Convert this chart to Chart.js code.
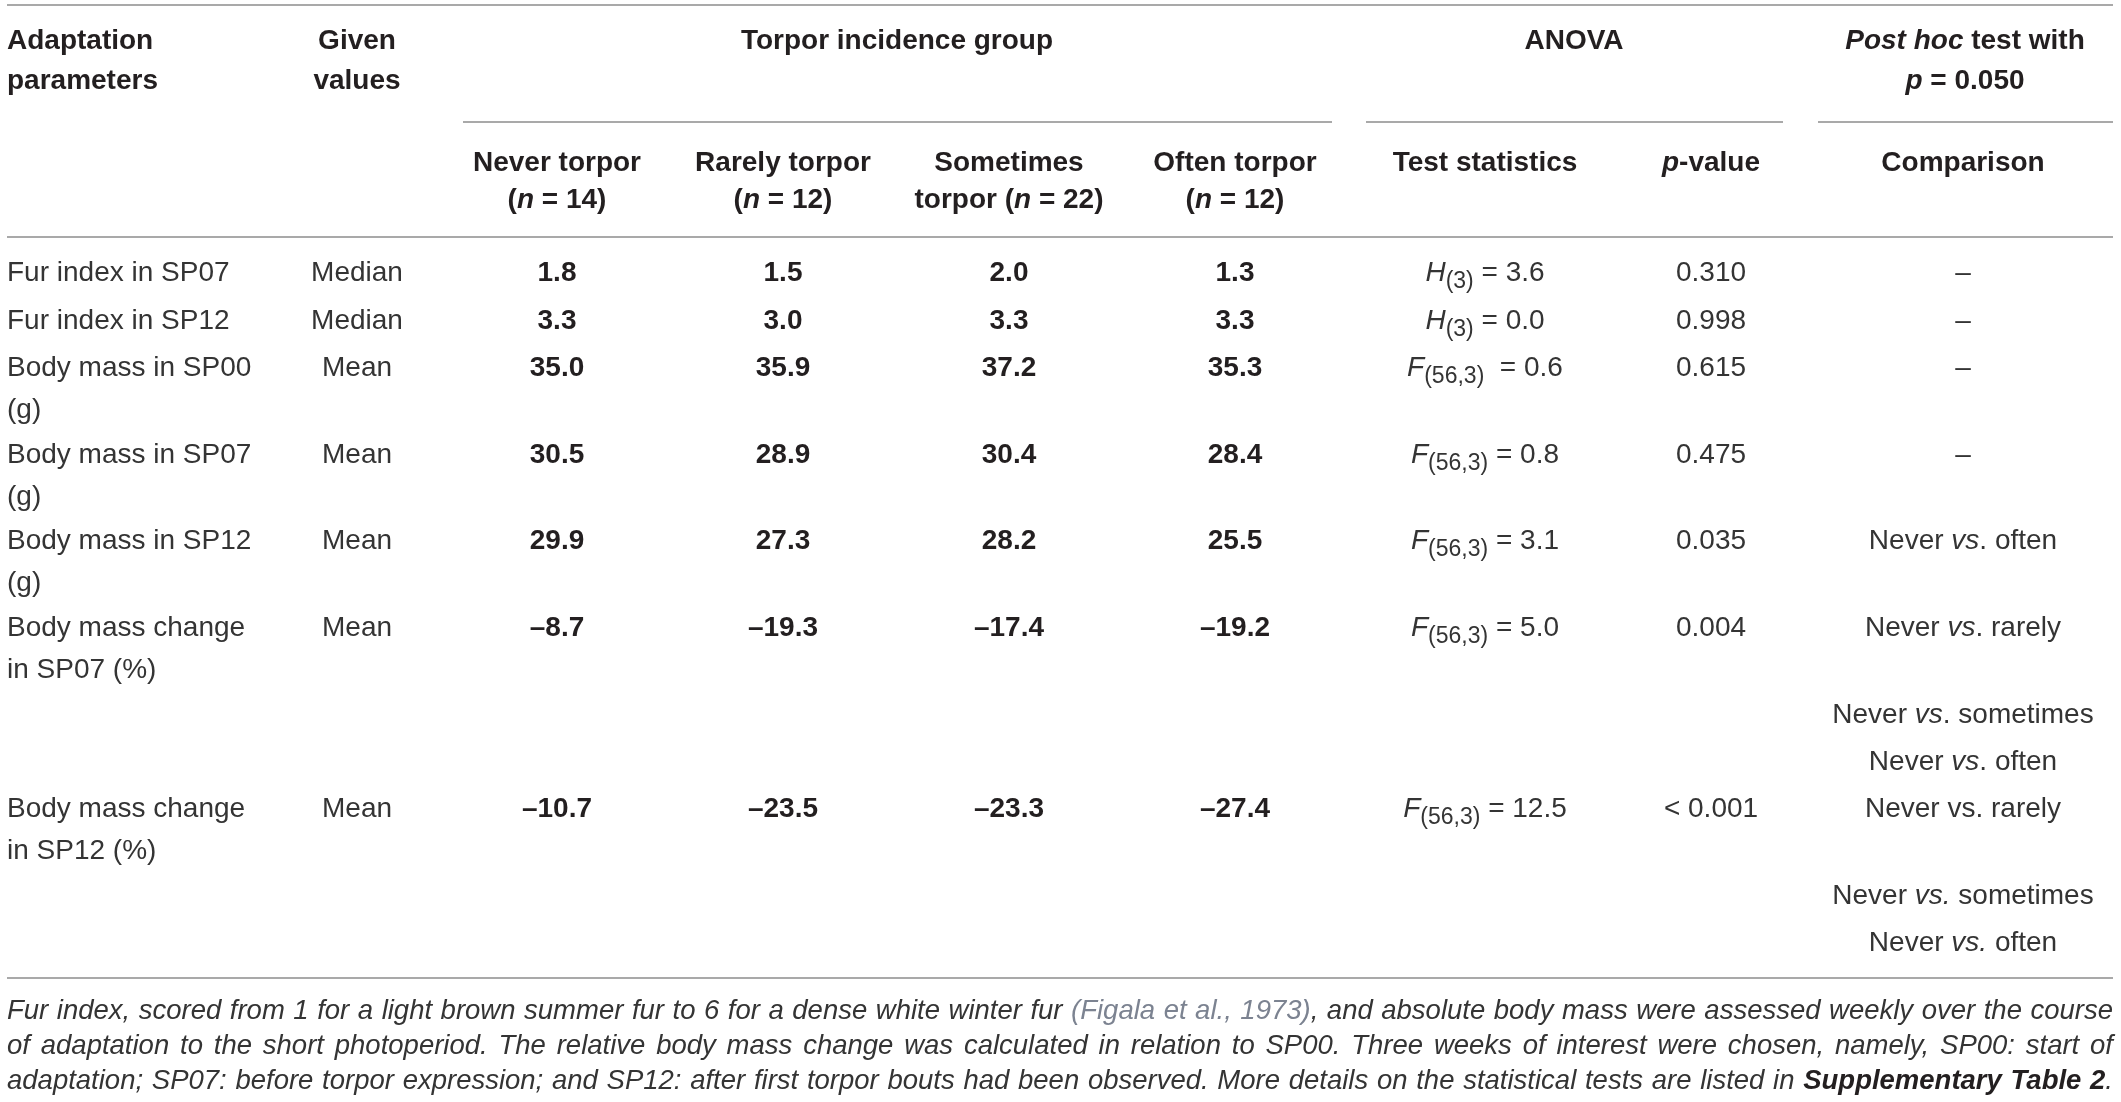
<!DOCTYPE html>
<html>
<head>
<meta charset="utf-8">
<script src="https://cdn.jsdelivr.net/npm/chart.js@4.4.1/dist/chart.umd.min.js"></script>
<style>
  html, body { margin: 0; padding: 0; background: #fff; }
  canvas { display: block; }
</style>
</head>
<body>
<canvas id="tabela" width="2121" height="1102"></canvas>
<script>
/* Tabela: parâmetros de adaptação por grupo de incidência de torpor */

const LARGURA = 2121;
const ALTURA  = 1102;
const FAMILIA = '"Liberation Sans", Arial, Helvetica, sans-serif';
const COR_TEXTO = "#343434";
const COR_NEGRITO = "#231f20";
const COR_CITA  = "#7c8391";
const COR_REGRA = "#a9a9a9";

// ---- dados ----
const parametros = [
  ["Fur index in SP07"],
  ["Fur index in SP12"],
  ["Body mass in SP00", "(g)"],
  ["Body mass in SP07", "(g)"],
  ["Body mass in SP12", "(g)"],
  ["Body mass change", "in SP07 (%)"],
  ["Body mass change", "in SP12 (%)"]
];
const valoresDados = ["Median", "Median", "Mean", "Mean", "Mean", "Mean", "Mean"];

const grupos = [
  ["Never torpor", "(_n_ = 14)"],
  ["Rarely torpor", "(_n_ = 12)"],
  ["Sometimes", "torpor (_n_ = 22)"],
  ["Often torpor", "(_n_ = 12)"]
];
const neverTorpor     = [1.8, 3.3, 35.0, 30.5, 29.9, -8.7, -10.7];
const rarelyTorpor    = [1.5, 3.0, 35.9, 28.9, 27.3, -19.3, -23.5];
const sometimesTorpor = [2.0, 3.3, 37.2, 30.4, 28.2, -17.4, -23.3];
const oftenTorpor     = [1.3, 3.3, 35.3, 28.4, 25.5, -19.2, -27.4];

const estatSimbolo = ["H", "H", "F", "F", "F", "F", "F"];
const estatGL      = ["(3)", "(3)", "(56,3)", "(56,3)", "(56,3)", "(56,3)", "(56,3)"];
const estatValor   = [3.6, 0.0, 0.6, 0.8, 3.1, 5.0, 12.5];
const pValores     = ["0.310", "0.998", "0.615", "0.475", "0.035", "0.004", "< 0.001"];

const comparacoes = [
  ["–"],
  ["–"],
  ["–"],
  ["–"],
  ["Never _vs_. often"],
  ["Never _vs_. rarely", "Never _vs_. sometimes", "Never _vs_. often"],
  ["Never vs. rarely", "Never _vs._ sometimes", "Never _vs._ often"]
];

const cabecalho1 = {
  parametros: ["Adaptation", "parameters"],
  dados: ["Given", "values"],
  grupo: ["Torpor incidence group"],
  anova: ["ANOVA"],
  posthoc: ["_Post hoc_ test with", "_p_ = 0.050"]
};
const cabecalho2 = {
  estat: ["Test statistics"],
  p: ["_p_-value"],
  comp: ["Comparison"]
};

const legenda = [
  "Fur index, scored from 1 for a light brown summer fur to 6 for a dense white winter fur {(Figala et al., 1973)}, and absolute body mass were assessed weekly over the course",
  "of adaptation to the short photoperiod. The relative body mass change was calculated in relation to SP00. Three weeks of interest were chosen, namely, SP00: start of",
  "adaptation; SP07: before torpor expression; and SP12: after first torpor bouts had been observed. More details on the statistical tests are listed in *Supplementary Table 2*."
];

// ---- layout ----
const ESQ = 7, DIR = 2113;
const COL_DADOS = 357;
const COL_GRUPOS = [557, 783, 1009, 1235];
const COL_ESTAT = 1485, COL_P = 1711, COL_COMP = 1963;
const CENTRO_GRUPO = 897, CENTRO_ANOVA = 1574, CENTRO_POSTHOC = 1965;
const Y_CAB1 = [41, 81], Y_CAB2 = [163, 200];
const Y_LINHAS = [273, 321, 368, 455, 541, 628, 809];
const PASSO_LINHA = 42, PASSO_SUB = 47, PRIMEIRO_SUB = 87;
const Y_LEGENDA = [1011, 1046, 1081];
const REGRAS = [
  [5, ESQ, DIR], [122, 463, 1332], [122, 1366, 1783], [122, 1818, DIR],
  [237, ESQ, DIR], [978, ESQ, DIR]
];
const TAM = 28, TAM_SUB = 23;

// ---- texto rico ----
function parseRuns(markup, base) {
  const runs = [];
  let it = !!base.italic, bd = !!base.bold, cita = false, buf = "";
  const push = () => {
    if (buf) runs.push({ t: buf, italic: it, bold: bd, size: base.size || TAM,
                         color: cita ? COR_CITA : (bd ? COR_NEGRITO : COR_TEXTO), dy: base.dy || 0 });
    buf = "";
  };
  for (const ch of markup) {
    if (ch === "_") { push(); it = !it; }
    else if (ch === "*") { push(); bd = !bd; }
    else if (ch === "{") { push(); cita = true; }
    else if (ch === "}") { push(); cita = false; }
    else buf += ch;
  }
  push();
  return runs;
}

function fonte(r) {
  return `${r.italic ? "italic " : ""}${r.bold ? "bold " : ""}${r.size}px ${FAMILIA}`;
}

function larguraRuns(ctx, runs) {
  let w = 0;
  for (const r of runs) { ctx.font = fonte(r); w += ctx.measureText(r.t).width; }
  return w;
}

function desenharRuns(ctx, runs, x, y, align) {
  const w = larguraRuns(ctx, runs);
  let cx = align === "center" ? x - w / 2 : x;
  for (const r of runs) {
    ctx.font = fonte(r);
    ctx.fillStyle = r.color;
    ctx.fillText(r.t, cx, y + r.dy);
    cx += ctx.measureText(r.t).width;
  }
}

function palavras(runs) {
  const ws = [[]];
  for (const r of runs) {
    r.t.split(" ").forEach((p, i) => {
      if (i > 0) ws.push([]);
      if (p) ws[ws.length - 1].push({ ...r, t: p });
    });
  }
  return ws.filter(w => w.length);
}

const fmt = v => v.toFixed(1).replace("-", "–");

// ---- plugin que desenha a tabela sobre as escalas ----
const tabelaPlugin = {
  id: "tabela",
  afterDraw(chart) {
    const { ctx, scales: { x, y } } = chart;
    const px = v => x.getPixelForValue(v);
    const py = v => y.getPixelForValue(v);
    ctx.save();
    ctx.textBaseline = "middle";

    // regras horizontais
    ctx.strokeStyle = COR_REGRA;
    ctx.lineWidth = 2;
    for (const [ry, x0, x1] of REGRAS) {
      ctx.beginPath();
      ctx.moveTo(px(x0), py(ry));
      ctx.lineTo(px(x1), py(ry));
      ctx.stroke();
    }

    const cab = (linhas, cx, ys, align) => linhas.forEach((t, i) =>
      desenharRuns(ctx, parseRuns(t, { bold: true }), px(cx), py(ys[i]), align));

    // cabeçalho 1
    cab(cabecalho1.parametros, ESQ, Y_CAB1, "left");
    cab(cabecalho1.dados, COL_DADOS, Y_CAB1, "center");
    cab(cabecalho1.grupo, CENTRO_GRUPO, Y_CAB1, "center");
    cab(cabecalho1.anova, CENTRO_ANOVA, Y_CAB1, "center");
    cab(cabecalho1.posthoc, CENTRO_POSTHOC, Y_CAB1, "center");

    // cabeçalho 2
    grupos.forEach((g, i) => cab(g, COL_GRUPOS[i], Y_CAB2, "center"));
    cab(cabecalho2.estat, COL_ESTAT, Y_CAB2, "center");
    cab(cabecalho2.p, COL_P, Y_CAB2, "center");
    cab(cabecalho2.comp, COL_COMP, Y_CAB2, "center");

    // corpo
    const series = [neverTorpor, rarelyTorpor, sometimesTorpor, oftenTorpor];
    Y_LINHAS.forEach((ly, i) => {
      parametros[i].forEach((t, k) =>
        desenharRuns(ctx, parseRuns(t, {}), px(ESQ), py(ly + k * PASSO_LINHA), "left"));
      desenharRuns(ctx, parseRuns(valoresDados[i], {}), px(COL_DADOS), py(ly), "center");
      series.forEach((s, j) =>
        desenharRuns(ctx, parseRuns(fmt(s[i]), { bold: true }), px(COL_GRUPOS[j]), py(ly), "center"));

      const estat = [
        ...parseRuns(estatSimbolo[i], { italic: true }),
        ...parseRuns(estatGL[i], { size: TAM_SUB, dy: 9 }),
        ...parseRuns((i === 2 ? "  = " : " = ") + estatValor[i].toFixed(1), {})
      ];
      desenharRuns(ctx, estat, px(COL_ESTAT), py(ly), "center");
      desenharRuns(ctx, parseRuns(pValores[i], {}), px(COL_P), py(ly), "center");

      comparacoes[i].forEach((t, k) => {
        const cy = k === 0 ? ly : ly + PRIMEIRO_SUB + (k - 1) * PASSO_SUB;
        desenharRuns(ctx, parseRuns(t, {}), px(COL_COMP), py(cy), "center");
      });
    });

    // legenda justificada
    const largura = px(DIR) - px(ESQ);
    const medir = tam => legenda.map(l => {
      const ws = palavras(parseRuns(l, { italic: true, size: tam }));
      return ws.reduce((a, w) => a + larguraRuns(ctx, w), 0) + (ws.length - 1) * tam * 0.278;
    });
    const nat = Math.max(...medir(TAM));
    const tamLeg = Math.min(TAM, Math.floor(TAM * largura * 0.99 / nat * 10) / 10);
    legenda.forEach((l, i) => {
      const ws = palavras(parseRuns(l, { italic: true, size: tamLeg }));
      const larg = ws.map(w => larguraRuns(ctx, w));
      const soma = larg.reduce((a, b) => a + b, 0);
      const gap = (largura - soma) / (ws.length - 1);
      let cx = px(ESQ);
      ws.forEach((w, k) => {
        desenharRuns(ctx, w, cx, py(Y_LEGENDA[i]), "left");
        cx += larg[k] + gap;
      });
    });

    ctx.restore();
  }
};

new Chart(document.getElementById("tabela"), {
  type: "scatter",
  data: { datasets: [] },
  options: {
    responsive: false,
    animation: false,
    devicePixelRatio: 1,
    layout: { padding: 0 },
    plugins: { legend: { display: false }, tooltip: { enabled: false } },
    scales: {
      x: { type: "linear", min: 0, max: LARGURA, display: false },
      y: { type: "linear", min: 0, max: ALTURA, reverse: true, display: false }
    }
  },
  plugins: [tabelaPlugin]
});
</script>
</body>
</html>
